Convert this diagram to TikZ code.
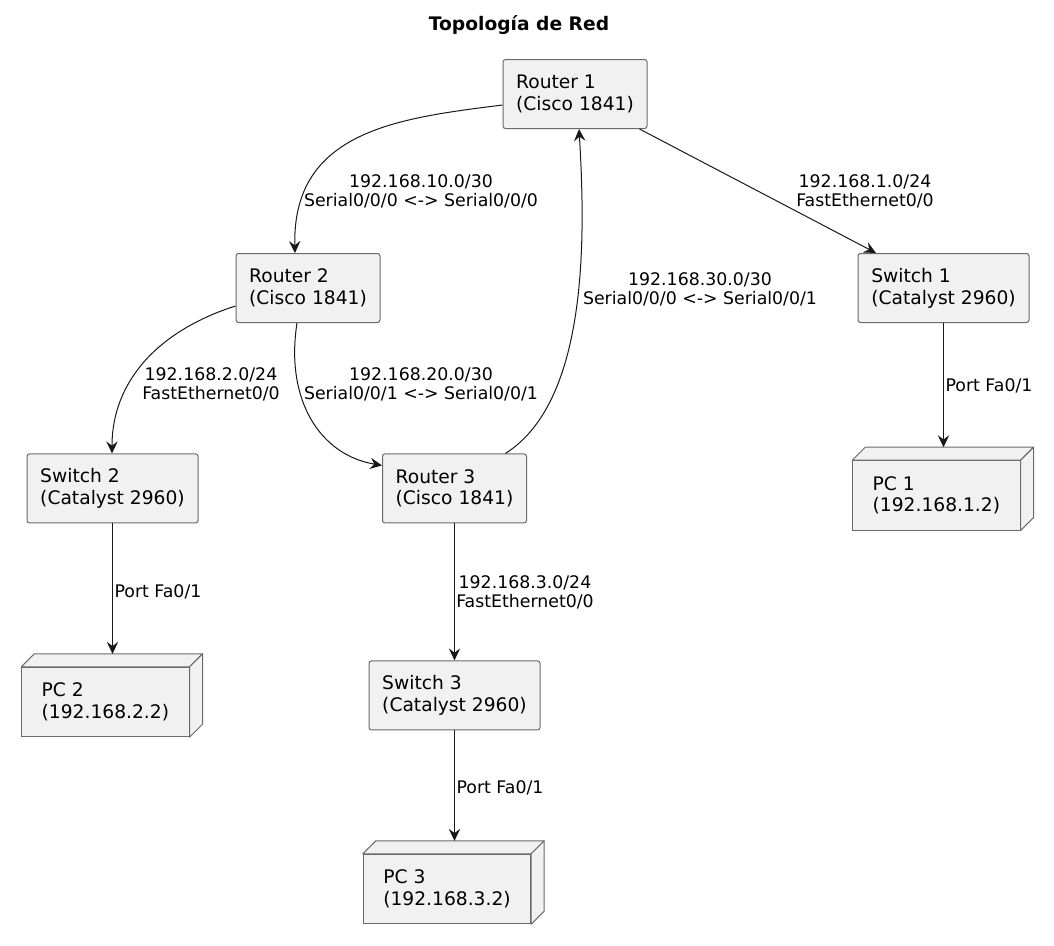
\documentclass[tikz,border=0pt]{standalone}
\usepackage{fontspec}
\setmainfont{DejaVu Sans}
\usetikzlibrary{arrows.meta,calc}
\definecolor{boxfill}{HTML}{F1F1F1}
\definecolor{boxline}{HTML}{6A6A6A}
\definecolor{edgecol}{HTML}{181818}
\begin{document}
\begin{tikzpicture}[x=0.75pt,y=-0.75pt,
  box/.style={draw=boxline, fill=boxfill, line width=0.75pt, rounded corners=1.8pt,
    align=left, font=\fontsize{14}{16.3}\selectfont, inner sep=0pt, minimum height=51.75pt},
  router/.style={box, minimum width=108pt},
  switchbox/.style={box, minimum width=128.25pt},
  pcbox/.style={box, rounded corners=0pt, minimum width=125.5pt, minimum height=52pt},
  pcface/.style={draw=boxline, fill=boxfill, line width=0.75pt, line join=round},
  edge/.style={draw=edgecol, line width=0.75pt, -{Stealth[length=9pt,width=8.5pt,inset=3.2pt]}},
  lbl/.style={font=\fontsize{13}{14.3}\selectfont, align=center, inner sep=0pt},
]
\useasboundingbox (0,0) rectangle (1054,946);

\node[font=\fontsize{14}{16}\selectfont\bfseries] (title) at (519,25) {Topología de Red};

\node[router] (r1) at (575,94) {Router 1\\(Cisco 1841)};
\node[router] (r2) at (308,288) {Router 2\\(Cisco 1841)};
\node[router] (r3) at (454.5,488.4) {Router 3\\(Cisco 1841)};
\node[switchbox] (s1) at (943.5,288) {Switch 1\\(Catalyst 2960)};
\node[switchbox] (s2) at (112.5,488.4) {Switch 2\\(Catalyst 2960)};
\node[switchbox] (s3) at (454.5,695.4) {Switch 3\\(Catalyst 2960)};
\node[pcbox] (pc1) at (936.4,495.4) {PC 1\\(192.168.1.2)};
\node[pcbox] (pc2) at (105.4,702) {PC 2\\(192.168.2.2)};
\node[pcbox] (pc3) at (447,889) {PC 3\\(192.168.3.2)};

\foreach \n in {pc1,pc2,pc3}{
  \path[pcface] (\n.north west) -- ++(13,-13) -- ($(\n.north east)+(13,-13)$) -- (\n.north east) -- cycle;
  \path[pcface] (\n.north east) -- ++(13,-13) -- ($(\n.south east)+(13,-13)$) -- (\n.south east) -- cycle;
}

% edges
\draw[edge] ($(r1.west)+(0,11)$) .. controls (400,118) and (292,130) .. ($(r2.north)+(-13,0)$);
\draw[edge] ($(r1.south east)+(-8,0)$) -- ($(s1.north west)+(18.5,0)$);
\draw[edge] ($(r3.north)+(51,0)$) .. controls (590,400) and (585,230) .. ($(r1.south)+(4,0)$);
\draw[edge] ($(r2.west)+(0,18)$) .. controls (160,330) and (112,380) .. ($(s2.north)+(-0.5,0)$);
\draw[edge] ($(r2.south)+(-11,0)$) .. controls (285,400) and (320,455) .. ($(r3.west)+(0,-23)$);
\draw[edge] (s1.south) -- ($(s1.south |- pc1.north)+(0,-13)$);
\draw[edge] (s2.south) -- ($(s2.south |- pc2.north)+(0,-13)$);
\draw[edge] (r3.south) -- (r3.south |- s3.north);
\draw[edge] (s3.south) -- ($(s3.south |- pc3.north)+(0,-13)$);

% labels
\node[lbl] (l1) at (421,191) {192.168.10.0/30\\Serial0/0/0 <-> Serial0/0/0};
\node[lbl] (l2) at (865,191) {192.168.1.0/24\\FastEthernet0/0};
\node[lbl] (l3) at (700,289) {192.168.30.0/30\\Serial0/0/0 <-> Serial0/0/1};
\node[lbl] (l4) at (211,384) {192.168.2.0/24\\FastEthernet0/0};
\node[lbl] (l5) at (421,384) {192.168.20.0/30\\Serial0/0/1 <-> Serial0/0/1};
\node[lbl] (l6) at (525,592) {192.168.3.0/24\\FastEthernet0/0};
\node[lbl] (l7) at (989,386) {Port Fa0/1};
\node[lbl] (l8) at (158,592) {Port Fa0/1};
\node[lbl] (l9) at (500,788) {Port Fa0/1};
\end{tikzpicture}
\end{document}
